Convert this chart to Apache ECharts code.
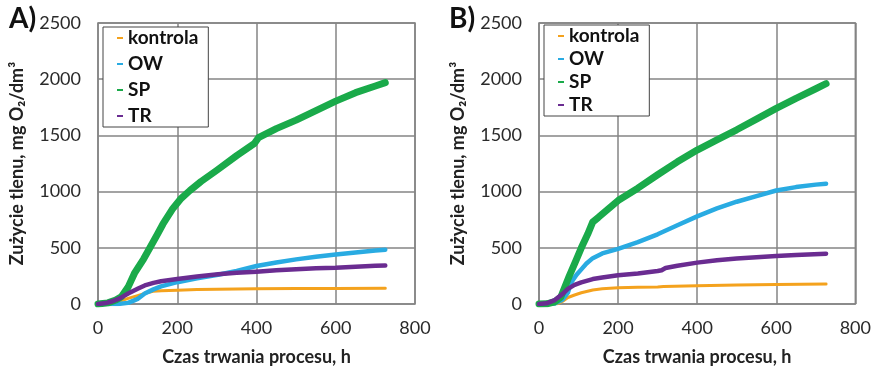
<!DOCTYPE html>
<html>
<head>
<meta charset="utf-8">
<script src="https://cdn.jsdelivr.net/npm/echarts@6/dist/echarts.min.js"></script>
<style>
  html, body { margin: 0; padding: 0; background: #fff; }
  #chart { width: 874px; height: 371px; }
</style>
</head>
<body>
<div id="chart"></div>
<script>
// [czas h, zużycie mg O2/dm3]
const kontrolaA = [[0,0],[34,12],[60,30],[76,50],[100,75],[118,95],[139,114],[160,118],[200,122],[250,128],[300,132],[400,136],[500,138],[600,139],[725,140]];
const owA = [[0,0],[50,0],[76,10],[90,30],[100,45],[118,93],[140,130],[159,157],[200,194],[250,228],[303,260],[350,295],[400,338],[450,370],[500,397],[550,420],[600,440],[650,458],[700,475],[725,483]];
const spA = [[0,0],[25,10],[45,35],[59,65],[76,150],[93,280],[115,400],[131,500],[150,620],[164,712],[189,850],[210,940],[232,1010],[260,1090],[300,1190],[350,1320],[395,1430],[405,1480],[450,1560],[500,1636],[550,1720],[600,1805],[650,1880],[700,1940],[725,1970]];
const trA = [[0,0],[20,8],[34,22],[55,50],[76,93],[100,135],[118,165],[140,188],[159,203],[200,222],[250,245],[303,265],[350,278],[400,288],[450,300],[500,310],[550,318],[600,323],[650,332],[700,340],[725,342]];

const kontrolaB = [[0,0],[46,2],[60,25],[73,58],[90,80],[107,100],[136,125],[160,135],[200,144],[250,148],[300,152],[315,155],[320,168],[400,163],[500,168],[600,174],[726,178]];
const owB = [[0,0],[40,5],[60,40],[73,100],[81,190],[95,260],[107,308],[120,360],[136,408],[160,450],[200,491],[250,550],[300,620],[350,700],[400,780],[450,850],[500,910],[550,960],[600,1010],[650,1040],[700,1062],[726,1070]];
const spB = [[0,0],[20,2],[40,20],[55,60],[77,253],[95,400],[107,500],[123,620],[136,730],[150,770],[200,920],[250,1030],[300,1150],[350,1265],[400,1370],[450,1460],[500,1550],[550,1645],[600,1740],[650,1830],[700,1915],[726,1960]];
const trB = [[0,0],[19,6],[40,35],[60,90],[73,135],[90,170],[107,192],[136,222],[160,235],[200,256],[250,272],[300,293],[310,300],[320,320],[350,340],[400,368],[450,390],[500,405],[550,415],[600,428],[650,436],[726,448]];

const seriesNames = ["kontrola", "OW", "SP", "TR"];
const colors = ["#F4A21D", "#29ABE2", "#1AAA4A", "#6A2C91"];
const widths = [3, 4.5, 7, 4.5];
const xTitle = "Czas trwania procesu, h";
const yTitle = "Zużycie tlenu, mg O₂/dm³";

const FONT = "Lato";
const chart = echarts.init(document.getElementById("chart"), null, { renderer: "canvas" });

function xAxis(idx) {
  return {
    gridIndex: idx, type: "value", min: 0, max: 800, interval: 200,
    name: xTitle, nameLocation: "middle", nameGap: 44,
    nameTextStyle: { fontFamily: FONT, fontWeight: "bold", fontSize: 18, color: "#222" },
    axisLine: { show: false }, axisTick: { show: false },
    axisLabel: { fontFamily: FONT, fontSize: 18, color: "#2a2a2a", margin: 15, formatter: v => String(v) },
    splitLine: { lineStyle: { color: "#858585", width: 1.5 } }
  };
}
function yAxis(idx) {
  return {
    gridIndex: idx, type: "value", min: 0, max: 2500, interval: 500,
    name: yTitle, nameLocation: "middle", nameGap: 72,
    nameTextStyle: { fontFamily: FONT, fontWeight: "bold", fontSize: 18, color: "#222" },
    axisLine: { show: false }, axisTick: { show: false },
    axisLabel: { fontFamily: FONT, fontSize: 18, color: "#2a2a2a", margin: 17, formatter: v => String(v) },
    splitLine: { lineStyle: { color: "#858585", width: 1.5 } }
  };
}
function legend(left, top, gap) {
  return {
    left: left, top: top, orient: "vertical",
    data: seriesNames,
    icon: "rect", itemWidth: 6, itemHeight: 2, itemGap: gap,
    padding: [1, 10, 1, 14],
    backgroundColor: "#fff", borderColor: "#444", borderWidth: 1,
    textStyle: { fontFamily: FONT, fontWeight: "bold", fontSize: 19, color: "#111", lineHeight: 20 },
    selectedMode: false
  };
}

const dataA = [kontrolaA, owA, spA, trA];
const dataB = [kontrolaB, owB, spB, trB];
const series = [];
[dataA, dataB].forEach((set, g) => {
  set.forEach((d, i) => {
    series.push({
      name: seriesNames[i], type: "line", xAxisIndex: g, yAxisIndex: g,
      data: d, showSymbol: false, smooth: false,
      itemStyle: { color: colors[i] },
      lineStyle: { color: colors[i], width: widths[i], join: "round", cap: "round" }
    });
  });
});

chart.setOption({
  animation: false,
  grid: [
    { left: 98, top: 23, width: 317, height: 290, show: true, borderColor: "#808080", borderWidth: 1.5 },
    { left: 539, top: 23, width: 318, height: 290, show: true, borderColor: "#808080", borderWidth: 1.5 }
  ],
  xAxis: [xAxis(0), xAxis(1)],
  yAxis: [yAxis(0), yAxis(1)],
  legend: [legend(103, 27, 6), legend(544, 25, 3)],
  graphic: [
    { type: "text", left: 9, top: 5, style: { text: "A)", font: "bold 28px " + FONT, fill: "#111" } },
    { type: "text", left: 449, top: 5, style: { text: "B)", font: "bold 28px " + FONT, fill: "#111" } }
  ],
  series: series
});
</script>
</body>
</html>
